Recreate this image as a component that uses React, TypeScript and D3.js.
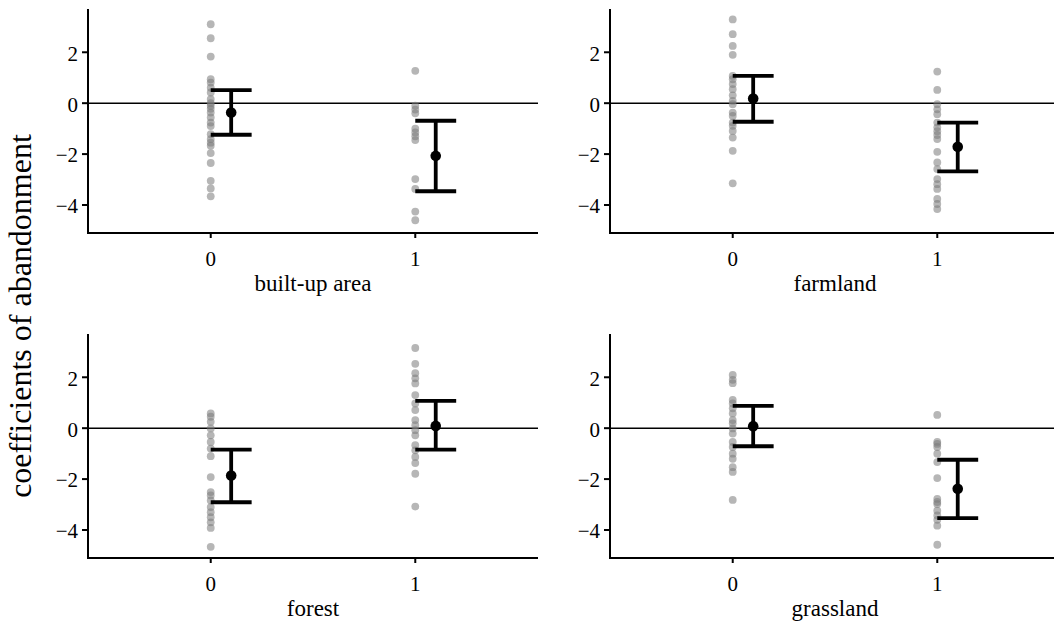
import React from "react";
import * as d3 from "d3";

const panelTitles = ["built-up area", "farmland", "forest", "grassland"];

const builtUp0 = [3.1, 2.55, 1.83, 0.94, 0.81, 0.61, 0.42, 0.16, 0.0, -0.1, -0.22, -0.37, -0.56, -0.76, -0.9, -1.22, -1.41, -1.55, -1.67, -1.96, -2.35, -3.05, -3.35, -3.66];
const builtUp1 = [1.27, -0.1, -0.25, -0.4, -1.0, -1.15, -1.3, -1.45, -2.98, -3.37, -4.26, -4.6];
const farmland0 = [3.29, 2.71, 2.25, 1.9, 1.07, 0.94, 0.75, 0.55, 0.31, 0.09, -0.04, -0.37, -0.5, -0.76, -0.89, -1.09, -1.35, -1.87, -3.15];
const farmland1 = [1.24, 0.52, -0.04, -0.24, -0.43, -0.76, -0.95, -1.1, -1.25, -1.41, -1.91, -2.33, -2.59, -2.98, -3.18, -3.37, -3.76, -3.96, -4.16];
const forest0 = [0.58, 0.45, 0.25, -0.01, -0.28, -0.54, -0.8, -1.1, -1.92, -2.51, -2.64, -2.84, -3.1, -3.3, -3.5, -3.7, -3.92, -4.66];
const forest1 = [3.15, 2.53, 2.16, 1.96, 1.76, 1.3, 0.97, 0.71, 0.32, 0.12, -0.08, -0.28, -0.67, -0.87, -1.13, -1.37, -1.79, -3.08];
const grassland0 = [2.09, 1.9, 1.77, 1.11, 0.97, 0.78, 0.58, 0.32, 0.19, -0.01, -0.21, -0.54, -0.74, -1.0, -1.2, -1.53, -1.72, -2.82];
const grassland1 = [0.52, -0.54, -0.62, -0.74, -1.0, -1.33, -1.96, -2.78, -2.9, -2.98, -3.24, -3.43, -3.6, -3.83, -4.58];

const points = [
  [builtUp0, builtUp1],
  [farmland0, farmland1],
  [forest0, forest1],
  [grassland0, grassland1],
];

// estimate and 95% interval per panel, for group 0 and group 1
const means = [[-0.37, -2.07], [0.18, -1.71], [-1.86, 0.09], [0.08, -2.38]];
const lowers = [[-1.24, -3.46], [-0.73, -2.68], [-2.91, -0.84], [-0.71, -3.53]];
const uppers = [[0.51, -0.69], [1.07, -0.76], [-0.84, 1.07], [0.88, -1.24]];

const yTicks = [2, 0, -2, -4];
const xTicks = [0, 1];

const font = "'Liberation Serif', 'Times New Roman', serif";
const panelW = 450;
const panelH = 224;
const origins = [
  { x: 88, y: 9 },
  { x: 610, y: 9 },
  { x: 88, y: 334 },
  { x: 610, y: 334 },
];

const Panel = ({ idx }: { idx: number }) => {
  const o = origins[idx];
  const x = d3.scaleLinear().domain([-0.6, 1.6]).range([o.x, o.x + panelW]);
  const y = d3.scaleLinear().domain([-5.1, 3.7]).range([o.y + panelH, o.y]);
  const bottom = o.y + panelH;
  const groups = points[idx];

  return (
    <g>
      {/* zero reference line */}
      <line x1={x(-0.6)} x2={x(1.6)} y1={y(0)} y2={y(0)} stroke="#000" strokeWidth={1.6} />

      {/* raw coefficients */}
      {groups.map((vals, g) =>
        vals.map((v, i) => (
          <circle key={`${g}-${i}`} cx={x(g)} cy={y(v)} r={3.9} fill="#7a7a7a" fillOpacity={0.55} />
        ))
      )}

      {/* error bars */}
      {[0, 1].map((g) => {
        const cx = x(g + 0.1);
        return (
          <g key={g} stroke="#000" strokeWidth={3.8}>
            <line x1={cx} x2={cx} y1={y(lowers[idx][g])} y2={y(uppers[idx][g])} />
            <line x1={x(g)} x2={x(g + 0.2)} y1={y(lowers[idx][g])} y2={y(lowers[idx][g])} />
            <line x1={x(g)} x2={x(g + 0.2)} y1={y(uppers[idx][g])} y2={y(uppers[idx][g])} />
            <circle cx={cx} cy={y(means[idx][g])} r={5.3} fill="#000" stroke="none" />
          </g>
        );
      })}

      {/* axes */}
      <line x1={o.x} x2={o.x} y1={o.y} y2={bottom} stroke="#000" strokeWidth={2} />
      <line x1={o.x - 1} x2={o.x + panelW} y1={bottom} y2={bottom} stroke="#000" strokeWidth={2} />
      {yTicks.map((t) => (
        <g key={t}>
          <line x1={o.x - 6} x2={o.x} y1={y(t)} y2={y(t)} stroke="#000" strokeWidth={2} />
          <text x={o.x - 10} y={y(t)} dy="0.4em" textAnchor="end" fontSize={21} fontFamily={font}>
            {t < 0 ? `\u2212${-t}` : t}
          </text>
        </g>
      ))}
      {xTicks.map((t) => (
        <g key={t}>
          <line x1={x(t)} x2={x(t)} y1={bottom} y2={bottom + 5} stroke="#000" strokeWidth={2} />
          <text x={x(t)} y={bottom + 26} dy="0.35em" textAnchor="middle" fontSize={21} fontFamily={font}>
            {t}
          </text>
        </g>
      ))}
      <text x={o.x + panelW / 2} y={bottom + 50} dy="0.35em" textAnchor="middle" fontSize={23} fontFamily={font}>
        {panelTitles[idx]}
      </text>
    </g>
  );
};

export default function App() {
  return (
    <svg width={1054} height={632} style={{ position: "absolute", left: 0, top: 0, background: "#fff" }}>
      <rect width={1054} height={632} fill="#fff" />
      {[0, 1, 2, 3].map((i) => (
        <Panel key={i} idx={i} />
      ))}
      <text
        transform="translate(31,316) rotate(-90)"
        textAnchor="middle"
        fontSize={32}
        fontFamily={font}
      >
        coefficients of abandonment
      </text>
    </svg>
  );
}
